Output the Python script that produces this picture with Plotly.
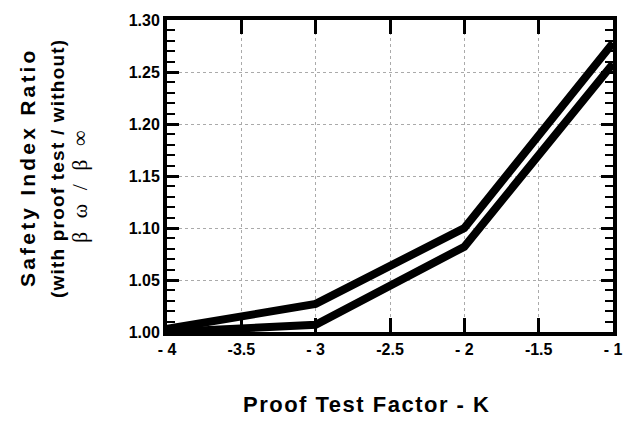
import plotly.graph_objects as go

k_values = [-4, -3, -2, -1]
upper_ratio = [1.003, 1.027, 1.100, 1.278]
lower_ratio = [1.000, 1.007, 1.082, 1.258]

x_tickvals = [-4, -3.5, -3, -2.5, -2, -1.5, -1]
x_ticktext = ["- 4", "-3.5", "- 3", "-2.5", "- 2", "-1.5", "- 1"]

title_lines = ["Safety Index Ratio", "(with proof test / without)", "β ω / β ∞"]


def spaced(t, px):
    return f"<span style='letter-spacing:{px}px'>{t}</span>"


def fmt(v):
    return ("%g" % v).replace("-", "")


alias = {}
for v, t in zip(x_tickvals, x_ticktext):
    alias["\u2212" + fmt(v)] = t
    alias["-" + fmt(v)] = t

fig = go.Figure()
for ys in (upper_ratio, lower_ratio):
    fig.add_trace(go.Scatter(x=k_values, y=ys, mode="lines",
                             line=dict(color="black", width=8),
                             showlegend=False))

fig.update_layout(
    width=629, height=424,
    margin=dict(l=167, r=7, t=20, b=92),
    paper_bgcolor="white", plot_bgcolor="white",
    font=dict(family="Liberation Sans, Arial", size=16, color="black", weight="bold"),
    xaxis=dict(range=[-4, -1], tick0=-4, dtick=0.5, labelalias=alias,
               ticks="inside", ticklen=14, tickwidth=3,
               tickcolor="#000000", showline=True, linewidth=4, linecolor="black",
               mirror="ticks", showgrid=True, gridcolor="#aaa", griddash="dot"),
    yaxis=dict(range=[1.0, 1.30], tickmode="linear", tick0=1.0, dtick=0.05,
               tickformat=".2f",
               ticks="inside", ticklen=12, tickwidth=3, tickcolor="#000000",
               showline=True, linewidth=4, linecolor="black", mirror="ticks",
               showgrid=True, gridcolor="#aaa", griddash="dot",
               minor=dict(dtick=0.01, ticks="inside", ticklen=8, tickwidth=2,
                          tickcolor="#000000")),
    annotations=[
        dict(text="<b>" + spaced("Proof Test Factor - K", 1.5) + "</b>",
             xref="paper", yref="paper", x=0.5, y=0, xshift=-24, yshift=-72,
             xanchor="center", yanchor="middle", showarrow=False,
             font=dict(size=22)),
        dict(text="<b>" + spaced(title_lines[0], 3.2) + "</b>",
             xref="paper", yref="paper", x=0, y=0.5, xshift=-140, yshift=9,
             xanchor="center", yanchor="middle", textangle=-90, showarrow=False,
             font=dict(size=21)),
        dict(text="<b>" + spaced(title_lines[1], 1.2) + "</b>",
             xref="paper", yref="paper", x=0, y=0.5, xshift=-110, yshift=7,
             xanchor="center", yanchor="middle", textangle=-90, showarrow=False,
             font=dict(size=19)),
        dict(text=spaced(title_lines[2], 4),
             xref="paper", yref="paper", x=0, y=0.5, xshift=-88, yshift=-9,
             xanchor="center", yanchor="middle", textangle=-90, showarrow=False,
             font=dict(size=22, family="Liberation Serif", weight="normal")),
    ],
)

fig.write_html("out.html")
